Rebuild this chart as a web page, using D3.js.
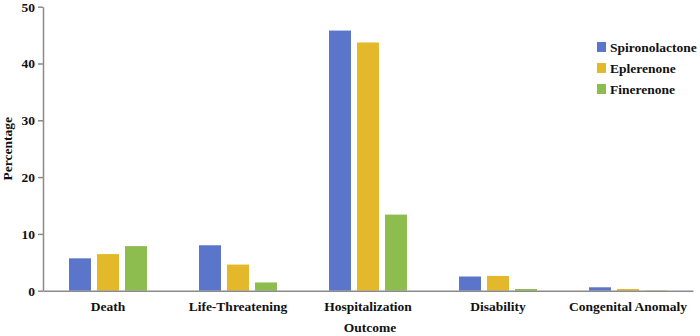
<!DOCTYPE html>
<html>
<head>
<meta charset="utf-8">
<script src="https://cdn.jsdelivr.net/npm/d3@7"></script>
<style>
  body { margin: 0; background: #fff; }
  text { font-family: "Liberation Serif", "Times New Roman", serif; font-weight: bold; fill: #111; }
</style>
</head>
<body>
<svg id="chart" width="700" height="336"></svg>
<script>
const categories = ["Death", "Life-Threatening", "Hospitalization", "Disability", "Congenital Anomaly"];
const seriesNames = ["Spironolactone", "Eplerenone", "Finerenone"];
const spironolactone = [5.7, 8.0, 45.8, 2.5, 0.6];
const eplerenone = [6.45, 4.6, 43.7, 2.6, 0.3];
const finerenone = [7.85, 1.45, 13.4, 0.3, 0.05];
const yTicks = [0, 10, 20, 30, 40, 50];

const COLORS = ["#5a75c9", "#e3b82b", "#8dbd4f"];
const seriesValues = [spironolactone, eplerenone, finerenone];
const FONT_SIZE = 13.5;

const svg = d3.select("#chart");
const margin = { left: 43, right: 7, top: 7, bottom: 45 };
const width = 700;
const height = 336;

const x = d3.scaleBand()
  .domain(categories)
  .range([margin.left, width - margin.right])
  .padding(0);

const y = d3.scaleLinear()
  .domain([0, 50])
  .range([height - margin.bottom - 0.3, margin.top - 0.3]);

const barWidth = 22;
const barStride = 28;

const rows = categories.map((cat, i) => ({
  cat,
  values: seriesValues.map((vals, s) => ({ s, v: vals[i] })),
}));

const groups = svg.append("g")
  .selectAll("g.cat")
  .data(rows)
  .join("g")
  .attr("class", "cat")
  .attr("transform", (d) => `translate(${x(d.cat) + x.bandwidth() / 2},0)`);

groups.selectAll("rect")
  .data((d) => d.values)
  .join("rect")
  .attr("x", (d) => (d.s - 1) * barStride - barWidth / 2)
  .attr("y", (d) => y(d.v))
  .attr("width", barWidth)
  .attr("height", (d) => y(0) - y(d.v))
  .attr("fill", (d) => COLORS[d.s]);

// y axis
const yAxis = svg.append("g")
  .attr("transform", `translate(${margin.left},0)`)
  .call(d3.axisLeft(y).tickValues(yTicks).tickSize(5).tickSizeOuter(0).tickPadding(3));
yAxis.select(".domain").attr("stroke", "#8a8a8a").attr("stroke-width", 1.5);
yAxis.selectAll(".tick line").attr("stroke", "#8a8a8a").attr("stroke-width", 1.5);
yAxis.selectAll(".tick text")
  .attr("font-size", FONT_SIZE)
  .attr("font-family", "'Liberation Serif', serif")
  .attr("font-weight", "bold")
  .attr("fill", "#111");

// x axis
const xAxis = svg.append("g")
  .attr("transform", `translate(0,${y(0)})`)
  .call(d3.axisBottom(x).tickSize(0).tickSizeOuter(0).tickPadding(11));
xAxis.select(".domain").attr("stroke", "#8a8a8a").attr("stroke-width", 1.5);
xAxis.selectAll(".tick text")
  .attr("font-size", FONT_SIZE)
  .attr("font-family", "'Liberation Serif', serif")
  .attr("font-weight", "bold")
  .attr("fill", "#111");

// axis titles
svg.append("text")
  .attr("x", x.range()[0] + (x.range()[1] - x.range()[0]) / 2 + 2)
  .attr("y", 332)
  .attr("text-anchor", "middle")
  .attr("font-size", FONT_SIZE)
  .text("Outcome");

svg.append("text")
  .attr("transform", `translate(12,${(y(0) + y(50)) / 2}) rotate(-90)`)
  .attr("text-anchor", "middle")
  .attr("font-size", FONT_SIZE)
  .text("Percentage");

// legend
const legend = svg.append("g")
  .attr("transform", "translate(597,47)")
  .selectAll("g")
  .data(seriesNames)
  .join("g")
  .attr("transform", (d, i) => `translate(0,${i * 21})`);

legend.append("rect")
  .attr("x", 0)
  .attr("y", -5)
  .attr("width", 9)
  .attr("height", 10)
  .attr("fill", (d, i) => COLORS[i]);

legend.append("text")
  .attr("x", 13)
  .attr("y", 0)
  .attr("dy", "0.35em")
  .attr("font-size", FONT_SIZE)
  .text((d) => d);
</script>
</body>
</html>
